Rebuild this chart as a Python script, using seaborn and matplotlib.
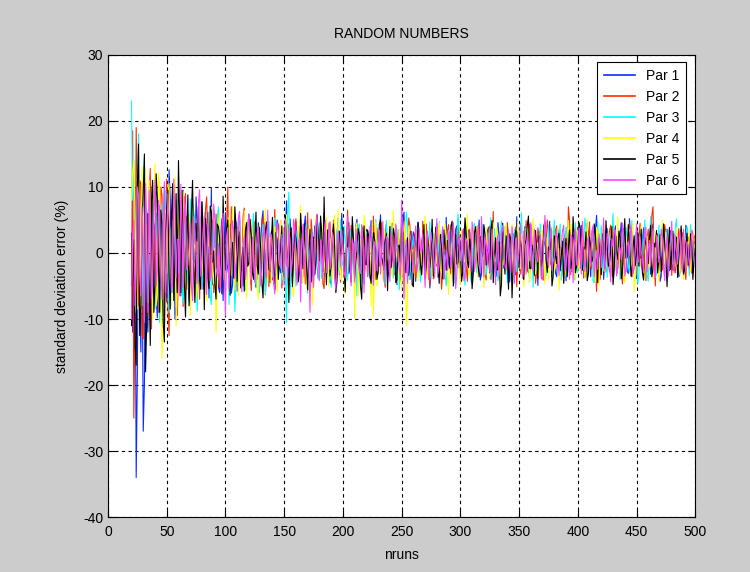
import numpy as np
import pandas as pd
import matplotlib
matplotlib.use("Agg")
import matplotlib.pyplot as plt
import seaborn as sns

# values
# *_even: nruns = 20, 22, ..., 500    *_odd: nruns = 21, 23, ..., 499
par1_even = [3.0, -8.5, -34.0, 6.2, -15.0, -27.0, 5.5, -12.0, 8.4, -6.0,
             4.5, -9.8, 7.2, -3.5, 9.1, -7.4, 12.6, -4.0, 6.3, -8.2,
             3.8, -6.5, 9.5, -2.1, 5.7, -7.9, 8.3, -1.5, 4.2, -5.6,
             7.6, -3.2, 2.8, -6.8, 9.8, -2.5, 4.9, -5.1, 3.3, -7.2,
             6.1, -1.8, 4.4, -4.9, 2.6, -5.8, 5.3, -0.9, 3.7, -4.1,
             5.9, -2.7, 1.4, -5.2, 4.6, -3.0, 6.4, -1.1, 2.9, -4.5,
             3.5, -5.6, 5.0, -2.2, 1.8, -4.0, 7.9, -3.4, 2.4, -1.7,
             4.8, -4.4, 3.1, -0.6, 5.6, -3.8, 2.0, -5.0, 4.1, -1.9,
             2.7, -3.6, 6.0, -2.4, 1.2, -4.7, 3.9, -0.8, 5.2, -3.1,
             1.6, -4.2, 4.3, -2.0, 3.0, -3.3, 5.1, -1.4, 2.2, -4.6,
             3.6, -1.2, 4.9, -3.7, 1.0, -2.8, 5.8, -2.3, 2.5, -3.9,
             4.0, -0.5, 2.1, -4.8, 3.4, -1.6, 6.2, -3.0, 1.3, -2.6,
             3.2, -4.3, 4.7, -1.0, 2.8, -3.5, 1.9, -5.3, 3.8, -0.7,
             4.4, -2.5, 1.5, -3.9, 5.4, -1.3, 2.3, -4.1, 3.6, -2.2,
             1.1, -3.4, 4.2, -0.9, 3.0, -4.6, 2.7, -1.8, 5.0, -3.2,
             2.4, -2.1, 3.9, -4.0, 1.7, -0.4, 4.6, -3.3, 2.0, -1.5,
             3.7, -4.4, 1.3, -2.7, 5.5, -1.1, 2.9, -3.8, 0.8, -2.4,
             4.3, -1.6, 2.6, -4.9, 3.3, -0.6, 1.8, -3.0, 4.8, -2.0,
             1.5, -3.6, 3.5, -1.4, 2.2, -4.2, 4.0, -0.9, 2.8, -3.1,
             3.9, -2.3, 1.6, -3.7, 4.5, -1.0, 2.4, -2.9, 5.7, -1.7,
             2.1, -4.0, 3.2, -0.8, 1.9, -3.4, 4.1, -2.2, 2.6, -1.3,
             3.4, -2.8, 5.2, -1.5, 1.0, -3.9, 2.7, -0.6, 3.8, -2.5,
             1.4, -3.2, 4.4, -1.9, 2.9, -4.3, 1.7, -1.0, 3.6, -2.7,
             2.3, -1.4, 3.1, -3.6, 1.2, -2.1, 4.2, -0.7, 2.0, -3.0,
             1.8]
par1_odd = [-12.0, 10.0, -18.0, -6.0, 4.0, -20.0, -9.0, 7.0, -2.5, 3.5,
            -6.5, 2.0, 5.0, -9.5, 1.0, -4.0, 8.0, 3.0, -10.0, 2.5,
            6.0, 1.5, -4.0, 5.5, -7.0, -1.0, 3.5, 8.5, -3.0, 0.5,
            -5.5, 4.0, 6.2, -1.2, -4.8, 3.0, 1.1, -6.0, 5.2, 0.3,
            -3.0, 2.2, -6.1, 1.0, 4.7, 3.1, -2.4, -5.0, 1.9, 4.0,
            -1.3, 3.8, -3.9, -0.6, 2.0, 5.0, -4.6, 0.9, -2.2, 3.1,
            -2.8, 1.6, 4.2, -3.0, -0.7, 2.4, -1.5, 5.2, -4.3, 0.5,
            2.1, -1.0, -3.5, 4.0, 0.6, -2.2, 3.7, -0.9, 1.4, -3.8,
            4.5, 0.2, -2.0, 3.1, -4.4, 1.7, -0.5, 2.9, -3.3, 6.0,
            -0.9, 2.6, -3.1, 0.8, -1.7, 4.0, 1.2, -3.5, 3.3, 0.4,
            -2.4, 1.9, -0.3, 3.0, -3.6, 2.2, -1.1, 0.7, 4.4, -2.9,
            1.0, -3.4, 2.5, 0.3, -1.9, 4.6, -0.8, 2.0, -4.0, 1.5,
            -0.6, 2.8, -2.6, 1.4, 3.6, -1.5, 0.5, -3.0, 1.8, 2.9,
            -3.7, 0.9, 2.4, -1.1, -2.7, 3.2, 0.1, -1.6, 4.1, -0.4,
            2.6, -2.0, 0.7, 3.5, -3.1, 1.2, -0.9, 2.1, -4.1, 1.9,
            -1.4, 3.3, -2.8, 0.4, 1.6, -3.5, 2.7, 0.9, -2.3, 3.8,
            0.5, -1.8, 2.9, -3.3, 0.8, 2.3, -1.2, 4.0, -2.7, 0.3,
            -2.2, 1.4, -0.4, 3.1, -3.9, 1.0, 2.5, -1.7, 0.6, 3.3,
            -3.0, 0.7, 2.2, -2.5, 1.3, 3.9, -1.0, -2.8, 2.0, 0.9,
            -1.6, 4.2, -2.1, 0.5, 2.8, -3.6, 1.1, 3.4, -0.7, -2.4,
            1.7, -1.2, 3.7, -2.9, 0.4, 2.0, -3.2, 1.5, 4.6, -1.8,
            0.2, -3.1, 2.3, 1.2, -2.5, 3.0, -0.8, 1.9, -3.4, 2.6,
            -0.3, 3.1, -2.2, 0.8, 1.9, -3.5, 2.6, 0.3, -1.6, 3.4,
            -2.6, 1.1, 0.4, -3.0, 2.7, -1.3, 3.6, -2.0, 0.8, 1.5]

par2_even = [-5.0, -25.0, 19.0, -8.0, 10.5, -13.0, 4.2, -9.5, 12.8, 1.5,
             -7.8, 6.0, -4.5, 8.7, -11.0, 11.2, -12.5, 3.0, -6.2, 7.5,
             -2.8, 5.4, -8.1, 9.0, 0.6, -5.5, 6.7, -3.9, 2.0, -7.0,
             4.8, -1.2, 8.5, -4.6, 2.3, -6.0, 5.9, 0.4, -3.8, 3.6,
             -5.0, 10.0, -2.1, 3.4, -6.6, 4.0, 1.0, -4.2, 6.8, -2.5,
             2.0, -5.7, 4.9, -0.8, 3.1, -3.6, 5.5, -6.3, 1.6, 0.2,
             -4.1, 6.6, -1.5, 2.6, -5.3, 3.8, -2.0, 4.4, -3.5, 1.1,
             5.2, -2.9, -0.4, 3.5, -4.7, 6.1, -1.3, 2.1, -3.1, 4.7,
             -2.2, 1.4, -5.4, 3.9, 0.5, -3.0, 5.0, -1.8, 2.7, -4.4,
             3.3, -0.6, 6.5, -2.6, 1.8, -4.8, 2.4, -1.1, 4.1, -3.7,
             0.9, 3.0, -2.4, 5.6, -4.0, 1.5, -0.9, 3.7, -5.2, 2.2,
             -1.7, 4.5, -3.3, 0.7, 2.8, -4.5, 3.2, -0.2, 5.3, -2.8,
             1.9, -3.8, 2.6, -1.2, 4.8, -2.5, 0.3, -4.9, 3.5, 1.0,
             -2.0, 3.9, -5.5, 2.2, -0.8, 4.3, -3.2, 1.4, -1.9, 5.1,
             -3.1, 2.3, 0.1, -4.3, 3.6, -1.6, 2.9, -2.7, 4.0, -0.5,
             1.7, -4.1, 3.4, -1.0, 6.3, -2.3, 0.8, -3.6, 2.5, -1.4,
             4.6, -0.3, -3.4, 2.0, -5.1, 3.1, 1.2, -2.2, 4.9, -3.0,
             0.6, 2.7, -4.6, 3.8, -1.5, 1.9, -3.9, 5.0, -0.7, 2.3,
             -2.6, 4.1, -1.1, 0.4, -4.4, 3.3, 7.0, -3.3, 2.1, -1.8,
             3.7, -0.9, 2.2, -3.5, 1.3, 4.7, -2.4, 0.5, -5.8, 2.9,
             -1.3, 3.5, -2.9, 1.6, 4.2, -3.7, 0.9, -1.6, 3.0, -4.7,
             2.5, -0.4, 4.4, -2.1, 1.1, -3.3, 2.0, -1.9, 0.2, -4.2,
             3.6, -1.7, 7.0, -5.0, 2.8, 0.4, -2.6, 4.3, -1.2, 1.7,
             -3.4, 2.9, -0.8, 3.7, -2.3, 1.0, -4.0, 2.4, 0.6, -1.9,
             2.7]
par2_odd = [18.5, -10.0, 6.0, 11.0, -12.5, 2.0, -6.5, 9.0, -11.5, 5.0,
            3.5, -9.0, 10.0, -2.5, 4.5, -8.0, 1.5, 7.0, -4.0, -9.5,
            4.0, -3.0, 7.5, -5.5, 2.5, 6.0, -2.0, -6.5, 4.5, 1.0,
            -4.0, 6.5, 0.8, -3.5, 5.0, -1.5, 3.0, -5.2, 1.2, -2.5,
            4.1, -3.3, 7.0, -1.0, -4.3, 2.4, -0.2, 5.5, -3.9, 1.8,
            -2.8, 0.9, 4.4, -4.0, 2.2, -0.5, 3.6, -2.4, -5.1, 3.0,
            1.2, -2.6, 0.4, 4.9, -3.1, -1.1, 2.8, -4.8, 0.7, 3.4,
            -1.6, 4.0, -3.7, 0.8, 2.3, -1.2, 5.1, -3.4, 1.0, -0.6,
            3.2, -4.6, 2.1, -0.9, 4.7, -2.3, 1.5, -3.7, 0.4, 2.6,
            -3.0, 1.3, -1.6, 4.2, -0.3, 2.9, -5.0, 0.6, 3.5, -1.9,
            2.4, -3.9, 1.1, -0.6, 3.8, -2.0, 4.6, -3.3, 0.2, 1.7,
            -2.5, 0.9, 3.3, -1.4, -3.6, 2.5, 0.4, -2.0, 4.2, -0.8,
            3.0, -1.6, 0.2, -3.3, 2.1, 4.4, -2.2, 1.1, -3.9, 0.7,
            2.7, -0.5, -2.9, 1.8, 3.4, -1.9, 0.8, -3.2, 2.6, -1.0,
            0.5, 3.7, -2.1, 1.3, -4.0, 2.2, -0.7, 3.1, -1.5, 0.9,
            -3.2, 2.0, 4.1, -0.8, -2.4, 1.6, -3.9, 0.4, 3.2, -1.7,
            2.3, -2.8, 0.6, 3.9, -1.1, -3.2, 2.4, 0.2, -2.6, 4.4,
            -0.9, 1.5, -2.9, 2.6, 0.7, -4.1, 1.3, 3.0, -1.8, 0.4,
            3.5, -2.1, 0.9, -1.5, 2.6, -3.0, 4.8, 0.6, -2.8, 1.9,
            -1.0, 2.4, -3.8, 1.1, 0.3, -2.2, 3.3, -1.6, 2.2, -4.0,
            1.4, 0.6, -2.0, 3.4, -3.1, 1.7, 2.5, -0.9, -2.3, 3.7,
            -1.2, 2.8, -3.5, 0.7, 1.9, -1.4, 4.5, -2.6, 0.9, 2.0,
            -2.3, 5.6, -0.8, 1.2, -3.6, 2.3, -1.1, 3.0, -2.0, 0.5,
            2.2, -3.0, 1.4, -0.5, 3.1, -2.6, 0.8, 1.6, -3.1, 2.2]

par3_even = [23.0, 14.0, -6.0, 18.0, -3.5, 9.0, -11.0, 6.5, -4.0, 10.2,
             -8.5, 3.2, -10.5, 7.4, -2.0, 5.6, -9.0, 4.1, -5.8, 8.0,
             -3.0, 6.8, -7.6, 2.5, -4.3, 8.2, -1.0, 5.0, -8.8, 3.4,
             -2.4, 6.1, -5.2, 1.7, -7.8, 4.5, -0.5, 7.0, -3.6, 2.2,
             -6.0, 4.8, -1.6, 3.0, -8.9, 1.2, 5.6, -3.3, 0.6, -5.4,
             3.7, -2.2, 6.0, -4.8, 1.0, -1.4, 4.3, -6.2, 2.8, -0.3,
             -3.6, 5.3, -2.9, 1.9, -4.5, 3.1, -10.5, 9.2, -1.2, 2.6,
             -5.0, 0.9, 4.0, -3.2, 2.4, -6.1, 1.6, 3.5, -2.5, 0.0,
             4.6, -3.9, 1.3, -1.8, 3.8, -5.2, 2.9, -0.4, -2.7, 5.0,
             -1.5, 2.0, -4.1, 3.6, -0.8, 1.7, -6.5, 4.4, -2.1, 0.8,
             3.2, -3.5, 1.4, -1.9, 5.1, -2.6, 0.5, 2.7, -4.7, 1.8,
             -0.7, 4.2, -2.3, 1.1, -5.6, 3.0, -1.5, 6.2, -3.1, 0.4,
             2.5, -1.3, 3.9, -4.4, 0.9, 2.2, -2.9, 4.7, -0.6, -3.4,
             1.6, 4.8, -2.0, 0.3, -5.0, 3.4, -1.1, 2.0, -3.8, 5.9,
             -2.5, 1.0, -4.9, 3.3, 0.7, -1.7, 4.5, -3.0, 1.5, -0.2,
             3.8, -3.3, 0.6, 5.4, -2.0, 1.8, -4.2, 2.4, -1.0, 4.0,
             -4.5, 2.1, -0.9, 3.6, -2.8, 0.2, 6.1, -3.5, 1.2, -1.6,
             2.9, -5.2, 1.7, -0.5, 4.4, -2.4, 3.1, -1.8, 0.6, -3.7,
             5.0, -1.2, 2.6, -4.1, 0.8, 3.9, -2.6, 1.4, -0.3, 4.6,
             -3.0, 1.9, -1.4, 5.3, -2.2, 0.7, 3.4, -4.5, 2.0, -0.8,
             4.1, -2.7, 0.4, 2.8, -3.6, 6.0, -1.5, 1.2, -4.0, 3.3,
             -0.6, 2.4, -2.9, 4.9, -1.8, 0.9, -3.4, 3.7, -0.2, 1.6,
             -4.3, 5.5, -1.0, 2.1, -2.5, 0.3, 4.0, -3.1, 1.8, -0.5,
             3.5, -2.0, 5.2, -1.3, 0.8, -3.5, 2.6, -0.9, 4.3, -2.2,
             1.1]
par3_odd = [8.0, -9.0, 12.0, 3.0, -8.0, 14.5, -2.0, -7.5, 9.5, -5.0,
            6.0, -3.5, 2.0, -8.5, 9.5, -1.0, 3.0, -6.0, 6.5, -2.0,
            1.5, -6.0, 4.5, 0.5, -5.5, 3.0, 6.5, -4.0, -1.5, 5.5,
            -4.5, 2.0, 3.5, -6.5, 0.8, -3.2, 5.3, -1.8, 2.6, -4.2,
            3.6, -7.8, 2.2, 0.4, -4.0, 5.0, -2.5, 1.6, -5.6, 2.8,
            -1.0, 4.1, -3.6, 1.5, -6.0, 2.6, 0.3, -3.0, 4.8, -1.7,
            2.4, -4.3, 0.6, 3.9, -1.6, -3.1, 6.4, -7.0, 2.0, -0.9,
            3.3, -2.1, -4.6, 1.4, 4.4, -1.3, -2.8, 2.2, 0.7, -4.0,
            1.8, -0.6, 3.4, -3.1, 2.0, 0.6, -4.4, 3.6, -1.4, -2.0,
            4.1, -3.0, 0.9, 2.4, -2.7, -0.2, 3.8, -5.3, 1.4, 2.7,
            -2.1, 0.6, 3.3, -4.1, 1.7, -0.9, 2.2, -3.1, 4.9, -1.0,
            2.2, -3.8, 0.5, 3.6, -1.8, -2.6, 1.9, 4.4, -4.0, 1.1,
            -1.9, 3.3, -0.4, -2.7, 4.0, -1.1, 1.5, -3.9, 2.9, 0.6,
            -2.4, 1.3, 3.7, -3.3, 0.9, -1.5, 2.8, -4.6, 1.8, 3.5,
            -0.6, -3.0, 2.5, 0.4, -4.3, 3.9, -1.2, 1.0, -2.6, 4.3,
            0.8, -1.9, 2.9, -3.2, 3.6, -0.5, -2.1, 4.8, -1.4, 0.6,
            2.7, -3.6, 1.4, -0.7, 4.1, -2.3, 0.9, -1.5, 3.2, -4.4,
            1.1, 3.6, -2.6, 0.2, -1.5, 2.8, -3.4, 4.1, -0.6, 2.0,
            -2.2, 0.6, 4.4, -1.7, 2.0, -3.3, 0.5, 3.1, -4.1, 1.4,
            2.6, -0.8, -2.5, 3.8, -1.2, 1.9, -4.2, 0.9, 4.7, -2.3,
            0.9, 3.0, -3.7, 1.1, 2.5, -1.0, -2.7, 3.6, -0.5, 1.8,
            3.9, -2.0, 0.8, -1.3, 3.1, -4.6, 2.3, 0.1, 5.0, -3.2,
            1.2, -0.9, 2.9, -3.3, 4.2, -1.6, 0.7, 3.4, -2.4, 1.5,
            -1.6, 3.9, -2.8, 0.9, 2.3, -1.0, 4.0, -3.4, 1.2, 0.2]

par4_even = [8.0, 14.0, -4.0, 11.5, -9.0, 3.0, 13.0, -7.5, 5.5, -10.0,
             13.5, -6.5, 9.8, -16.0, 4.0, -3.0, 10.5, -8.0, 2.5, -11.0,
             6.0, -1.5, 9.3, -6.8, 3.2, -9.5, 7.7, 0.5, -5.0, 8.4,
             -3.3, 5.2, -7.3, 1.0, 6.9, -4.7, -12.0, 3.8, -2.0, 5.8,
             -4.4, 2.9, -0.7, 7.1, -5.6, 1.5, 4.2, -3.0, 6.4, -6.8,
             0.8, 5.1, -2.6, 3.6, -7.0, 1.9, -1.2, 6.7, -4.3, 2.4,
             -1.0, 4.0, -5.9, 2.2, 0.3, -3.8, 5.8, -2.1, 3.3, -6.6,
             1.4, -0.2, 7.2, -4.5, 2.6, -1.7, 3.9, -7.9, 1.1, 4.9,
             -3.4, 2.0, -1.3, 5.4, -5.0, 0.6, 3.0, -2.5, 6.6, -4.0,
             1.7, -6.2, 3.5, -0.5, 2.5, -9.8, 4.6, -1.9, 0.9, 5.7,
             -2.7, 3.2, -8.0, -9.6, 4.8, -3.1, 0.2, -4.0, 2.9, -1.1,
             5.0, -3.6, 1.8, -0.7, 3.6, -5.5, 2.3, -11.0, 4.1, -1.4,
             0.6, 3.4, -4.2, 2.1, -0.8, 5.6, -2.9, 1.2, -3.6, 3.0,
             -1.6, 4.5, -3.0, 0.4, 2.6, -6.3, 1.5, 3.8, -2.2, 0.9,
             -4.8, 2.8, -1.1, 5.9, -3.5, 1.0, -2.4, 4.2, -0.3, 2.1,
             -5.3, 3.9, 0.7, -2.0, 4.6, -1.3, 2.5, -4.4, 1.6, 3.3,
             -2.8, 0.5, 4.3, -3.7, 1.9, -1.6, 2.9, -5.1, 3.7, 0.1,
             -1.9, 5.2, -3.2, 1.3, -0.4, 3.5, -4.7, 2.4, -1.2, 4.0,
             -3.0, 1.6, -5.6, 2.7, 0.6, -1.8, 4.9, -2.6, 1.0, -4.1,
             3.4, -0.9, 2.0, -3.9, 5.1, -1.5, 0.4, -2.7, 3.9, -4.9,
             1.2, 4.4, -2.1, 0.0, -3.6, 2.6, -1.2, 5.4, -3.0, 0.8,
             -4.5, 2.2, 3.6, -1.7, -5.8, 1.4, -0.6, 4.1, -2.4, 1.9,
             -1.0, 3.2, -3.9, 0.7, 2.4, -2.2, 5.0, -1.6, -3.4, 2.5,
             0.3, -2.6, 3.8, -1.1, 1.6, -4.0, 2.2, -0.5, -2.9, 3.4,
             -1.5]
par4_odd = [12.0, 6.0, -8.5, 7.0, 13.0, -5.0, 2.5, 11.0, -3.5, 8.5,
            -8.0, 12.0, 1.5, -9.0, 6.5, 9.0, -4.5, 5.0, 11.5, -5.5,
            3.0, 7.5, -4.0, 1.0, 5.5, -3.5, 2.0, -7.0, 6.5, -1.5,
            4.4, -6.0, 2.8, 5.1, -2.6, 0.7, -5.7, 6.0, -0.8, -4.0,
            1.9, 5.4, -3.4, -1.5, 3.6, -6.5, 2.2, 0.9, -2.3, 4.5,
            -3.9, 2.7, 0.3, -5.2, 4.3, -2.0, 3.7, -0.5, 1.8, -4.6,
            3.1, -2.2, 1.2, 4.9, -4.1, 0.8, -1.9, 3.2, -5.0, 1.6,
            -3.2, 4.3, -1.1, 2.0, -5.4, 3.6, 0.4, -3.0, 5.6, -2.0,
            0.9, 4.4, -3.0, 0.1, 2.2, -4.1, 5.8, -0.9, -2.2, 3.3,
            -4.0, 1.4, 2.9, -3.3, 0.5, 3.8, -6.5, 2.2, -1.0, 4.0,
            -3.4, 1.1, 4.6, -2.1, -5.0, 2.7, -1.4, 3.8, -0.6, 1.5,
            -2.9, 6.4, 0.6, -4.4, 2.1, -1.0, 4.9, -7.0, 1.7, 0.3,
            -3.2, 2.4, 0.8, -1.9, 4.0, -3.8, 1.8, 3.1, -2.0, -0.4,
            3.0, -2.5, 1.2, 4.4, -3.6, 0.6, -4.2, 2.5, 0.0, -2.8,
            3.6, -1.4, 1.9, -3.2, 0.4, 4.1, -2.0, -3.6, 2.7, 1.1,
            -2.3, 1.5, -4.0, 2.8, -0.9, 3.9, -3.0, 1.2, -1.8, 4.3,
            -1.2, 2.6, -3.5, 0.5, 4.8, -2.4, 1.0, -2.7, 2.3, -4.3,
            2.4, -0.7, 1.6, -3.6, 3.3, -1.4, 0.9, -4.1, 3.2, 0.5,
            -1.9, 3.9, -2.3, 0.2, -3.5, 2.9, -0.4, 4.4, -1.7, 1.3,
            -2.6, 0.6, 3.6, -1.3, -3.1, 2.3, 1.6, -4.3, 2.8, -0.8,
            3.1, -2.8, 1.9, -1.1, 3.9, -0.4, -2.6, 2.1, 1.0, -3.5,
            0.4, 3.0, -2.0, 4.6, -3.7, 0.9, 2.2, -1.4, -3.8, 2.6,
            -2.3, 1.0, 3.4, -0.7, -4.4, 1.8, 0.6, 3.1, -2.7, 0.8,
            2.9, -1.8, 0.5, -3.3, 2.4, 1.2, -2.2, 3.5, -1.0, 0.6]

par5_even = [-11.0, 2.0, -17.0, 16.5, -8.0, 9.5, -18.0, 6.0, -14.0, 11.0,
             -5.0, 8.5, -9.0, 4.5, -13.5, 7.0, -3.5, 5.5, -7.2, 9.0,
             14.0, -6.0, 3.5, -9.7, 8.8, -2.0, 11.0, -7.5, 1.8, -4.0,
             7.8, -8.6, 2.4, -5.4, 6.3, 0.3, -7.0, 4.0, -3.0, 8.6,
             -2.6, 5.0, -6.4, 1.6, 7.0, -4.3, 3.2, -0.9, -5.8, 4.6,
             -1.5, 2.7, -4.0, 6.2, -3.2, 0.6, -6.8, 3.4, 1.1, -2.8,
             5.4, -5.5, 2.0, -1.0, 4.1, -3.6, 1.2, -7.5, 3.8, -0.4,
             2.3, -4.3, 6.0, -2.4, 0.8, -5.6, 3.6, 1.9, -3.3, 5.8,
             -1.2, 3.0, 8.5, -4.8, 1.5, -2.0, 4.4, -6.0, 2.4, -0.6,
             3.9, -5.9, 1.0, -2.3, 5.5, -3.7, 0.3, 2.8, -7.0, 4.1,
             -1.8, 2.5, -4.6, 3.1, 0.4, -2.9, 5.0, -1.4, 1.7, -5.7,
             4.0, -0.9, 2.6, -4.1, 1.2, 5.5, -2.7, 0.6, -3.4, 3.3,
             -5.1, 1.8, 4.6, -1.7, 0.2, -3.9, 2.7, -2.2, 5.1, -0.8,
             2.0, -4.6, 1.0, 3.5, -2.6, -0.4, 4.1, -5.0, 2.8, -1.5,
             0.7, -2.9, 5.3, -1.3, 2.1, -5.4, 3.0, 0.5, -3.6, 1.6,
             4.3, -1.8, -0.3, 3.6, -4.5, 2.3, -2.5, -6.5, 4.5, -3.2,
             -0.6, 2.9, -6.8, 1.5, 3.2, -2.2, 0.9, -4.0, 2.0, 5.6,
             -2.4, 0.3, 3.4, -3.8, 1.6, -1.0, 4.7, -2.9, 0.5, -5.0,
             2.6, -1.6, 3.0, -0.2, -4.6, 2.2, 0.8, -2.4, 5.5, -3.0,
             1.1, 3.8, -2.6, 0.6, -4.2, 2.4, -1.3, 4.4, -0.5, 2.1,
             -3.3, 1.5, 4.9, -2.0, 0.3, -4.8, 3.1, -1.0, 2.3, -2.8,
             5.2, -0.7, 1.9, -3.6, 2.6, 0.1, -2.0, 3.6, -4.1, 1.3,
             -1.6, 4.2, -2.4, 0.9, -3.0, 2.8, -0.4, 1.6, -5.1, 3.9,
             0.2, -2.7, 2.4, -0.6, 4.1, -3.2, 1.4, -1.9, 2.9, -4.0,
             0.7]
par5_odd = [-4.0, -14.0, 10.0, -12.5, 4.0, 15.0, -10.0, -4.5, 8.0, -9.0,
            12.0, -2.0, 6.5, -10.5, 3.0, 9.5, -8.5, 10.5, -1.5, -6.0,
            5.0, 9.5, -4.5, 2.0, -8.0, 6.0, -3.5, 4.5, 7.0, -5.5,
            2.0, 5.2, -3.8, 7.1, -1.4, -4.8, 4.4, 2.3, -6.2, 1.0,
            3.8, -1.1, 0.7, -3.8, 4.1, 2.0, -5.3, 0.9, 3.5, -2.0,
            5.1, -3.0, 1.8, -1.9, 3.9, -4.4, 0.5, 4.7, -2.5, 1.5,
            -2.0, 3.1, -4.0, 0.6, -2.8, 5.7, -1.4, 2.5, -5.1, 2.9,
            0.2, -3.0, 2.7, 4.4, -1.8, 0.5, -4.4, 2.4, -0.9, 3.0,
            5.6, -2.8, -0.4, 3.5, -3.5, 2.2, 0.7, -4.2, 3.3, 1.2,
            -2.5, 0.8, 4.6, -4.4, 2.1, -1.2, 3.7, -5.0, 1.1, -1.6,
            3.5, -3.2, 0.5, 2.0, -4.0, 4.3, -0.7, -2.6, 3.0, 0.4,
            -2.2, 3.7, -4.5, 1.0, -1.4, 3.1, -3.0, 2.3, 0.5, -4.8,
            2.6, -0.7, 0.9, -3.3, 4.3, -2.0, 1.1, -0.3, -3.5, 3.9,
            -1.0, 2.8, -3.9, 0.6, 1.9, -2.3, 4.8, -0.8, -1.7, 2.4,
            -4.3, 1.8, 3.0, -2.2, 0.2, -3.2, 4.0, -1.6, 2.5, -0.5,
            2.8, 0.5, -3.0, 4.9, -1.2, -2.6, 1.7, -4.8, 0.3, 2.6,
            -5.5, 1.9, -2.0, 3.4, -0.8, 2.2, -3.6, 1.3, 4.2, -2.3,
            1.2, -3.4, 0.4, 2.6, -2.1, 4.1, -1.1, 0.9, 3.6, -3.6,
            -0.4, 2.4, -2.7, 1.8, 0.6, -3.6, 3.5, -1.2, 2.3, -2.0,
            4.6, -1.7, 0.9, 3.2, -3.2, 1.0, -0.6, 2.7, -4.5, 0.6,
            2.9, -2.3, 1.1, -1.4, 4.0, -2.6, 0.2, 3.3, -3.9, 1.4,
            -0.8, 4.3, -2.4, 0.7, -1.9, 3.2, 1.0, -3.0, 2.4, -0.5,
            2.3, -3.6, 1.5, 3.4, -1.0, -2.8, 4.4, -0.9, 0.6, -2.5,
            3.3, -0.4, -3.7, 1.9, 0.6, -2.5, 3.0, -1.2, 1.8, -0.9]

par6_even = [-10.0, 5.0, -3.0, 8.5, -6.5, 2.0, 10.5, -9.0, 3.5, -4.5,
             11.0, -2.5, 6.0, -7.0, 10.8, -1.0, 4.8, -6.0, 11.2, -3.8,
             2.2, 10.4, -5.2, 6.5, -1.8, 4.7, -7.2, 3.0, -4.6, 9.6,
             -0.8, 5.6, -6.3, 2.9, -3.4, 7.4, -2.2, 1.4, -5.8, 6.0,
             -9.5, 3.8, -1.0, 4.9, -3.9, 0.8, 6.3, -5.9, 2.5, -1.6,
             5.7, -4.1, 1.0, -0.5, 3.9, -5.0, 2.1, -2.8, 6.5, -3.3,
             0.9, -6.2, 4.6, -1.8, 2.8, -4.9, 0.4, 3.6, -3.0, 5.1,
             -2.3, 1.7, -7.4, 4.3, -0.9, 2.5, -9.0, 3.2, -1.5, 5.8,
             -4.2, 0.6, 2.9, -3.0, 4.5, -1.4, 0.9, -5.5, 3.4, -2.0,
             1.4, -3.8, 5.6, -0.9, 2.0, -4.4, 1.6, -2.5, 4.3, -6.0,
             2.7, -1.0, 3.6, -4.9, 1.3, 0.2, -3.2, 4.8, -1.9, 2.2,
             -4.3, 1.5, -0.6, 3.1, -2.4, 8.0, -7.0, 2.0, -1.0, 1.9,
             -3.0, 4.1, -1.6, 0.5, 2.9, -5.2, 3.3, -0.8, 1.6, -3.8,
             5.2, -1.9, 2.4, -4.0, 0.6, 3.0, -2.3, 4.6, -5.4, 1.2,
             -1.2, 3.5, -3.7, 1.7, -0.5, 4.7, -2.8, 0.8, -1.8, 5.5,
             -3.6, 1.1, 3.0, -2.6, 0.2, -4.8, 2.7, -0.9, 4.2, -2.1,
             1.8, -0.8, 4.0, -4.6, 2.3, 0.5, -2.0, 3.3, -3.2, 1.0,
             4.6, -2.7, 0.9, -1.4, 2.8, -4.1, 5.7, -0.3, 1.5, -2.6,
             -0.5, 3.7, -3.4, 1.3, 4.2, -2.0, -0.7, 2.7, -4.5, 3.6,
             -1.9, 0.8, 4.8, -2.8, 1.7, -0.6, 3.2, -3.6, 0.4, 2.5,
             -2.2, 5.3, -1.1, 2.0, -4.4, 1.0, 3.4, -2.4, 0.7, 4.5,
             -3.5, 1.2, -0.3, 2.9, -2.2, 4.4, -1.4, 0.2, -3.0, 3.9,
             0.6, -2.0, 3.7, -3.7, 1.5, -0.2, 2.4, -4.2, 2.6, -1.1,
             4.8, -3.0, 0.5, 2.1, -1.6, 3.6, -2.6, 1.3, -0.4, 2.9,
             -2.0]
par6_odd = [2.0, -8.0, 10.0, -3.5, 7.0, -10.5, 4.0, 9.5, -7.0, 6.0,
            -5.0, 8.0, -3.0, 5.5, -6.0, 9.0, 1.5, -4.5, 6.0, 2.0,
            -6.5, 4.0, 8.5, -2.5, 1.0, -5.0, 5.5, -1.0, 7.5, -3.5,
            3.3, -2.0, 4.5, -4.2, 0.9, 5.0, -3.6, -1.2, 3.9, -2.6,
            2.6, -5.4, 0.7, 3.4, -1.5, 5.3, -2.8, 1.0, -4.0, 4.2,
            -1.4, 2.4, -4.4, 3.0, 0.2, -2.5, 4.6, -3.7, 0.5, 2.8,
            -4.5, 1.6, 3.4, -2.3, 0.6, 5.1, -3.8, 1.3, -0.8, 3.9,
            -4.8, 2.2, 0.8, -3.6, 3.8, -1.4, 2.0, -5.2, 4.4, -0.6,
            2.0, -3.4, 4.9, -0.7, -2.5, 3.1, -4.0, 1.7, 0.2, 3.6,
            -2.8, 0.4, 3.0, -5.0, 1.3, 3.6, -1.6, -3.1, 2.2, 0.8,
            -3.6, 4.0, -0.5, 1.7, -2.7, 3.5, 0.9, -4.4, 2.5, -1.2,
            3.2, -2.0, 4.4, -1.1, -3.4, 1.6, 0.5, -4.6, 3.0, -0.9,
            1.3, -2.9, 3.8, 0.3, -1.4, 2.4, -4.0, 3.1, -0.4, 1.9,
            -3.1, 0.8, 4.0, -1.7, -2.6, 3.3, -0.2, 1.9, -3.3, 2.7,
            0.6, -4.2, 2.2, 1.0, -2.9, 3.0, -1.1, 4.2, -3.0, 0.3,
            2.4, -1.7, -2.9, 3.6, -0.7, 1.4, -3.4, 3.0, 0.4, -2.4,
            3.5, -3.0, 0.8, 2.0, -1.9, 4.5, -3.8, 0.5, 2.7, -1.2,
            -2.0, 3.6, -0.5, 1.2, -3.6, 2.1, 0.4, -2.2, 3.9, -1.4,
            2.1, -1.0, 0.6, 3.4, -2.7, 1.1, -4.0, 2.5, 0.9, -1.8,
            3.8, -3.2, 1.4, -0.9, 2.5, -2.0, 4.2, -1.4, -2.5, 1.6,
            0.4, -2.7, 3.0, -1.6, 2.2, 3.7, -3.5, 0.8, -1.0, 2.9,
            -2.4, 1.7, 4.1, -3.2, 0.6, -1.2, 2.5, -0.6, 3.4, -2.9,
            1.9, 0.3, -3.0, 2.7, -1.4, 3.6, -2.1, 0.5, -3.6, 2.0,
            -0.9, 2.6, -1.7, 3.2, -2.9, 0.8, 1.7, -2.3, 3.5, -1.0]

labels = ["Par 1", "Par 2", "Par 3", "Par 4", "Par 5", "Par 6"]
colors = ["#0a2cff", "#ff2a00", "#00ffff", "#ffff00", "#000000", "#ff44ff"]
series = [(par1_even, par1_odd), (par2_even, par2_odd), (par3_even, par3_odd),
          (par4_even, par4_odd), (par5_even, par5_odd), (par6_even, par6_odd)]

frames = []
for lab, (ev, od) in zip(labels, series):
    vals = np.empty(len(ev) + len(od))
    vals[0::2] = ev
    vals[1::2] = od
    n = np.arange(20, 20 + len(vals))
    frames.append(pd.DataFrame({"nruns": n, "err": vals, "par": lab}))
df = pd.concat(frames, ignore_index=True)

plt.rcParams["font.family"] = ["Liberation Sans", "DejaVu Sans"]
plt.rcParams["font.size"] = 10
plt.rcParams["axes.unicode_minus"] = False

fig = plt.figure(figsize=(7.5, 5.72), dpi=100, facecolor="#cccccc")
ax = fig.add_axes([0.144, 0.096, 0.783, 0.808])
ax.set_facecolor("white")

sns.lineplot(data=df, x="nruns", y="err", hue="par", hue_order=labels,
             palette=colors, estimator=None, sort=False, linewidth=0.8,
             ax=ax)

ax.set_xlim(0, 500)
ax.set_ylim(-40, 30)
ax.set_xticks(range(0, 501, 50))
ax.set_yticks(range(-40, 31, 10))
ax.grid(True, color="black", linestyle=(0, (3, 3)), linewidth=0.8)
ax.set_axisbelow(True)
ax.tick_params(direction="in", top=True, right=True, length=5, width=0.8,
               labelsize=10, colors="black")
ax.tick_params(axis="x", pad=6)
for s in ax.spines.values():
    s.set_color("black")
    s.set_linewidth(0.8)

ax.set_title("RANDOM NUMBERS", fontsize=10, pad=12)
ax.set_xlabel("nruns", fontsize=10, labelpad=6)
ax.set_ylabel("standard deviation error (%)", fontsize=10, labelpad=10)

handles, labs = ax.get_legend_handles_labels()
leg = ax.legend(handles, labs, loc="upper right", bbox_to_anchor=(0.985, 0.985),
                borderaxespad=0, fancybox=False, framealpha=1,
                edgecolor="black", fontsize=10, handlelength=2.2,
                labelspacing=0.5, borderpad=0.5)
leg.get_frame().set_linewidth(0.8)
for h in leg.get_lines():
    h.set_linewidth(1.2)

fig.savefig("out.png", dpi=100, facecolor=fig.get_facecolor())
